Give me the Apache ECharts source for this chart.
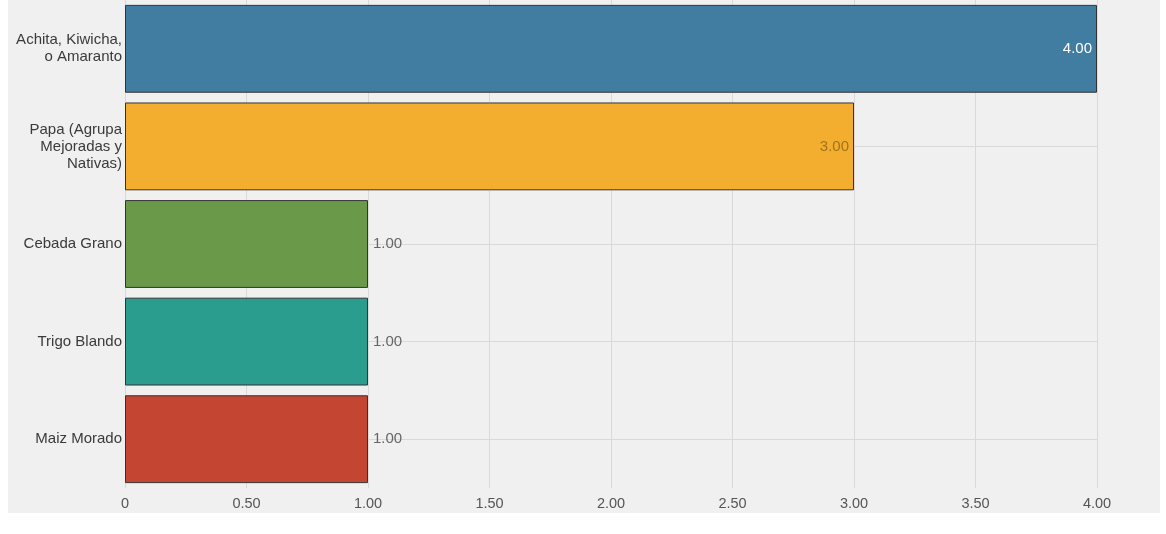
<!DOCTYPE html>
<html>
<head>
<meta charset="utf-8">
<script src="https://cdn.jsdelivr.net/npm/echarts@6/dist/echarts.min.js"></script>
<style>
html,body{margin:0;padding:0;background:#ffffff;width:1166px;height:534px;overflow:hidden;}
#chart{position:absolute;left:8px;top:0px;width:1152px;height:513px;background:#f0f0f0;}
</style>
</head>
<body>
<div id="chart"></div>
<script>
const categories = ["Achita, Kiwicha,\no Amaranto", "Papa (Agrupa\nMejoradas y\nNativas)", "Cebada Grano", "Trigo Blando", "Maiz Morado"];
const values = [4, 3, 1, 1, 1];
const colors = ["#417ca1", "#f4ae2f", "#6a994a", "#2a9d8f", "#c44532"];
const labelInside = [true, true, false, false, false];
const labelColors = ["#ffffff", "#a0731c", "#666666", "#666666", "#666666"];
const xTicks = { min: 0, max: 4, interval: 0.5 };

const FONT = 'Liberation Sans, Arial, sans-serif';
const chart = echarts.init(document.getElementById('chart'), null, { renderer: 'canvas' });
const data = values.map((v, i) => ({
  value: v,
  itemStyle: { color: colors[i] },
  label: {
    position: labelInside[i] ? 'insideRight' : 'right',
    color: labelColors[i],
    distance: 5
  }
}));
chart.setOption({
  animation: false,
  backgroundColor: '#f0f0f0',
  grid: { left: 117, right: 63, top: -2, height: 490 },
  xAxis: {
    type: 'value',
    min: xTicks.min, max: xTicks.max, interval: xTicks.interval,
    axisLine: { show: false },
    axisTick: { show: false },
    axisLabel: {
      color: '#555', fontSize: 14.5, fontFamily: FONT, margin: 8,
      formatter: v => v === 0 ? '0' : v.toFixed(2)
    },
    splitLine: { show: true, lineStyle: { color: '#d9d9d9', width: 1 } }
  },
  yAxis: {
    type: 'category',
    inverse: true,
    data: categories,
    axisLine: { show: false },
    axisTick: { show: false },
    axisLabel: {
      color: '#3a3a3a', fontSize: 15, fontFamily: FONT, margin: 3, lineHeight: 17, align: 'right'
    },
    splitLine: { show: true, alignWithLabel: true, lineStyle: { color: '#d9d9d9', width: 1 } }
  },
  series: [{
    type: 'bar',
    data: data,
    barCategoryGap: '10%',
    itemStyle: { borderColor: '#333', borderWidth: 1 },
    label: {
      show: true,
      fontSize: 15,
      fontFamily: FONT,
      formatter: p => p.value.toFixed(2)
    }
  }]
});
</script>
</body>
</html>
